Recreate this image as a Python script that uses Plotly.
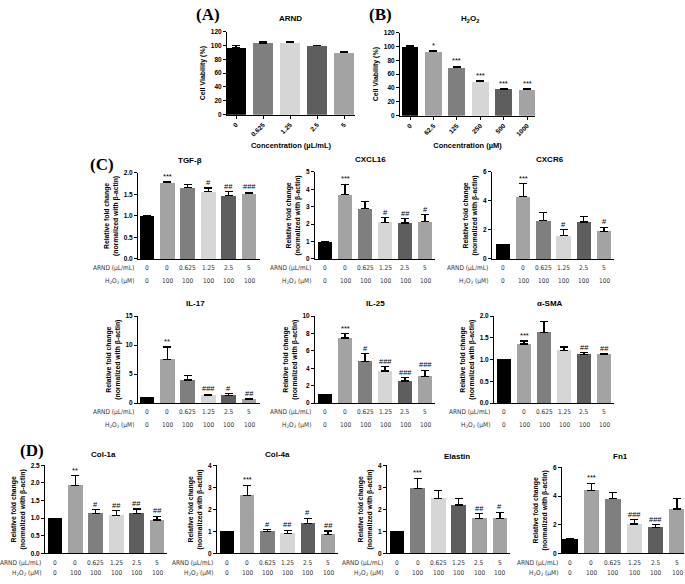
import plotly.graph_objects as go

W, H = 685, 584

# ---------------- data ----------------
arnd_conc = ["0", "0.625", "1.25", "2.5", "5"]
arnd_viab = [97, 103.5, 104, 99.5, 89.5]
arnd_viab_err = [3, 1.5, 1, 1, 1]
arnd_viab_sig = ["", "", "", "", ""]

h2o2_conc = ["0", "62.5", "125", "250", "500", "1000"]
h2o2_viab = [100, 92.5, 70, 49, 38.5, 38]
h2o2_viab_err = [2, 1, 1.5, 1.5, 0.7, 0.7]
h2o2_viab_sig = ["", "*", "***", "***", "***", "***"]

arnd_labels = ["0", "0", "0.625", "1.25", "2.5", "5"]
h2o2_labels = ["0", "100", "100", "100", "100", "100"]

tgfb = [1.0, 1.77, 1.66, 1.56, 1.47, 1.52]
tgfb_err = [0.0, 0.02, 0.08, 0.09, 0.09, 0.03]
tgfb_sig = ["", "***", "", "#", "##", "###"]

cxcl16 = [1.0, 3.7, 2.9, 2.1, 2.07, 2.15]
cxcl16_err = [0.0, 0.6, 0.4, 0.28, 0.25, 0.4]
cxcl16_sig = ["", "***", "", "#", "##", "#"]

cxcr6 = [1.0, 4.3, 2.65, 1.6, 2.55, 1.9]
cxcr6_err = [0.0, 0.9, 0.55, 0.42, 0.4, 0.28]
cxcr6_sig = ["", "***", "", "#", "", "#"]

il17 = [1.0, 7.6, 4.0, 1.35, 1.35, 0.6]
il17_err = [0.0, 2.1, 0.8, 0.2, 0.25, 0.2]
il17_sig = ["", "**", "", "###", "#", "##"]

il25 = [1.0, 7.5, 4.8, 3.7, 2.55, 3.1]
il25_err = [0.0, 0.5, 0.9, 0.5, 0.4, 0.7]
il25_sig = ["", "***", "#", "###", "###", "###"]

asma = [1.0, 1.36, 1.63, 1.22, 1.12, 1.12]
asma_err = [0.0, 0.07, 0.24, 0.07, 0.04, 0.02]
asma_sig = ["", "***", "", "", "##", "##"]

col1a = [1.0, 1.93, 1.14, 1.08, 1.13, 0.95]
col1a_err = [0.0, 0.28, 0.1, 0.13, 0.13, 0.1]
col1a_sig = ["", "**", "#", "##", "##", "##"]

col4a = [1.0, 2.62, 1.0, 0.9, 1.37, 0.85]
col4a_err = [0.0, 0.47, 0.07, 0.15, 0.22, 0.17]
col4a_sig = ["", "***", "#", "##", "#", "##"]

elastin = [1.0, 2.95, 2.5, 2.2, 1.6, 1.58]
elastin_err = [0.0, 0.47, 0.37, 0.3, 0.2, 0.28]
elastin_sig = ["", "***", "", "", "##", "#"]

fn1 = [1.0, 4.4, 3.8, 2.05, 1.83, 3.1]
fn1_err = [0.0, 0.5, 0.45, 0.3, 0.18, 0.75]
fn1_sig = ["", "***", "", "###", "###", ""]

# ---------------- styles ----------------
K, G1, G2, G3, G4 = "#000000", "#a3a3a3", "#7f7f7f", "#d6d6d6", "#5e5e5e"
col_A = [K, G2, G3, G4, G1]
col_B = [K, G1, G2, G3, G4, G1]
col_C = [K, G1, G2, G3, G4, G1]
col_E = [K, G2, G3, G4, G1, G1]

YT_C = "Relative fold change<br>(normalized with β-actin)"
YT_A = "Cell Viability (%)"

# name, mean, err, sig, colors, L, R, c0, s, top, bottom, ymax, dtick, fmt, tx, ty, kind
panels = [
    ("ARND", arnd_viab, arnd_viab_err, arnd_viab_sig, col_A, 227, 355, 236, 27, 28, 112, 120, 20, "d", 290, 15, "A"),
    ("H<sub>2</sub>O<sub>2</sub>", h2o2_viab, h2o2_viab_err, h2o2_viab_sig, col_B, 400, 535, 410, 23.4, 29, 113, 120, 20, "d", 470, 15, "B"),
    ("TGF-β", tgfb, tgfb_err, tgfb_sig, col_C, 138, 260, 147, 20.4, 171, 258, 2, 0.5, ".1f", 190, 158, "C"),
    ("CXCL16", cxcl16, cxcl16_err, cxcl16_sig, col_C, 315, 435, 325, 20, 170, 258, 5, 1, "d", 370, 157, "C"),
    ("CXCR6", cxcr6, cxcr6_err, cxcr6_sig, col_C, 492, 614, 503, 20.2, 170, 258, 6, 2, "d", 550, 157, "C"),
    ("IL-17", il17, il17_err, il17_sig, col_C, 138, 260, 147, 20.4, 316, 404, 15, 5, "d", 195, 303, "C"),
    ("IL-25", il25, il25_err, il25_sig, col_C, 315, 435, 325, 20, 316, 404, 10, 2, "d", 375, 303, "C"),
    ("α-SMA", asma, asma_err, asma_sig, col_C, 494, 614, 504, 20, 316, 404, 2, 0.5, ".1f", 550, 303, "C"),
    ("Col-1a", col1a, col1a_err, col1a_sig, col_C, 45, 167, 55, 20.4, 467, 556, 2.5, 0.5, ".1f", 103, 456, "D"),
    ("Col-4a", col4a, col4a_err, col4a_sig, col_C, 217, 338, 227, 20.2, 467, 556, 4, 1, "d", 277, 456, "D"),
    ("Elastin", elastin, elastin_err, elastin_sig, col_E, 387, 510, 397, 20.6, 467, 556, 4, 1, "d", 457, 458, "D"),
    ("Fn1", fn1, fn1_err, fn1_sig, col_C, 562, 684, 570, 21.4, 469, 556, 6, 2, "d", 620, 458, "D"),
]

def px(x):
    return x / W

def py(y):
    return 1 - y / H

fig = go.Figure()
annotations = []
layout = {}
SANS = "Liberation Sans, Arial"
NARROW = "Liberation Sans Narrow, DejaVu Sans Condensed, Liberation Sans, Arial"
TICKF = dict(family=SANS, size=6.5, color="black", weight="bold")
LABF = dict(family=NARROW, size=6.5, color="#333333")

for i, (name, mean, err, sig, colors, L, R, c0, s, top, bot, ymax, dtick, fmt, tx, ty, kind) in enumerate(panels):
    k = i + 1
    xa = "x" if k == 1 else f"x{k}"
    ya = "y" if k == 1 else f"y{k}"
    n = len(mean)
    xs = list(range(n))
    fig.add_trace(go.Bar(
        x=xs, y=mean, xaxis=xa, yaxis=ya, width=0.72 if kind != "A" else 0.74,
        marker=dict(color=colors, line=dict(width=0)),
        error_y=dict(type="data", symmetric=False, array=err, arrayminus=[0] * n,
                     color="black", thickness=1.2, width=4),
        showlegend=False, hoverinfo="y",
    ))
    xkey = "xaxis" if k == 1 else f"xaxis{k}"
    ykey = "yaxis" if k == 1 else f"yaxis{k}"
    xr = [(L - c0) / s, (R - c0) / s]
    xaxis = dict(domain=[px(L), px(R)], range=xr, anchor=ya, showline=True, linecolor="black",
                 linewidth=1, showgrid=False, zeroline=False, fixedrange=True)
    if kind in ("A", "B"):
        labels = arnd_conc if kind == "A" else h2o2_conc
        xaxis.update(tickmode="array", tickvals=xs, ticktext=labels, tickangle=-45,
                     ticks="outside", ticklen=3, tickcolor="black", tickfont=TICKF,
                     title=dict(text="Concentration (µL/mL)" if kind == "A" else "Concentration (µM)",
                                font=dict(family=SANS, size=7.5, color="black", weight="bold"),
                                standoff=6))
    else:
        xaxis.update(showticklabels=False, ticks="")
    layout[xkey] = xaxis
    layout[ykey] = dict(domain=[py(bot), py(top)], range=[0, ymax], anchor=xa, showline=True,
                        linecolor="black", linewidth=1, showgrid=False, zeroline=False,
                        ticks="outside", ticklen=3, tickcolor="black", tickmode="linear",
                        tick0=0, dtick=dtick, tickformat=fmt,
                        tickfont=TICKF, fixedrange=True,
                        title=dict(text=YT_A if kind in ("A", "B") else YT_C,
                                   font=dict(family=SANS, size=7 if kind in ("A", "B") else 6.8,
                                             color="black", weight="bold"),
                                   standoff=4))
    # title
    annotations.append(dict(x=px(tx), y=py(ty), xref="paper", yref="paper", text=name,
                            showarrow=False, xanchor="center", yanchor="middle",
                            font=dict(family=SANS, size=8, color="black", weight="bold")))
    # significance
    for j in range(n):
        if sig[j]:
            annotations.append(dict(x=j, y=mean[j] + err[j], xref=xa, yref=ya, text=sig[j],
                                    showarrow=False, xanchor="center", yanchor="bottom", yshift=-1,
                                    font=dict(family=SANS, size=7.5, color="black")))
    # group labels
    if kind in ("C", "D"):
        r1 = bot + (9 if kind == "C" else 10)
        r2 = bot + (22 if kind == "C" else 20)
        for j in range(n):
            annotations.append(dict(x=j, y=py(r1), xref=xa, yref="paper", text=arnd_labels[j],
                                    showarrow=False, xanchor="center", yanchor="middle", font=LABF))
            annotations.append(dict(x=j, y=py(r2), xref=xa, yref="paper", text=h2o2_labels[j],
                                    showarrow=False, xanchor="center", yanchor="middle", font=LABF))
        annotations.append(dict(x=px(L - 2), y=py(r1), xref="paper", yref="paper", text="ARND (µL/mL)",
                                showarrow=False, xanchor="right", yanchor="middle", font=LABF))
        annotations.append(dict(x=px(L - 2), y=py(r2), xref="paper", yref="paper",
                                text="H<sub>2</sub>O<sub>2</sub> (µM)",
                                showarrow=False, xanchor="right", yanchor="middle", font=LABF))

# panel letters
PF = dict(family="Liberation Serif, Times New Roman", size=17, color="black", weight="bold")
for txt, x, y in [("(A)", 208, 11), ("(B)", 380, 11), ("(C)", 102, 162), ("(D)", 32, 452)]:
    annotations.append(dict(x=px(x), y=py(y), xref="paper", yref="paper", text=txt, showarrow=False,
                            xanchor="center", yanchor="middle", font=PF))

fig.update_layout(
    width=W, height=H, margin=dict(l=0, r=0, t=0, b=0),
    paper_bgcolor="white", plot_bgcolor="white", annotations=annotations,
    bargap=0, **layout,
)

fig.write_html("out.html", config={"displayModeBar": False},
               post_script="document.body.style.margin='0';document.body.style.padding='0';")
